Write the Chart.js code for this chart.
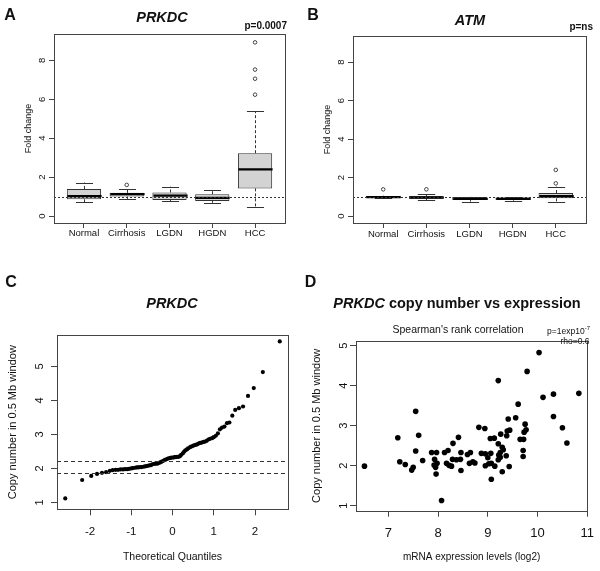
<!DOCTYPE html>
<html>
<head>
<meta charset="utf-8">
<script src="https://cdn.jsdelivr.net/npm/chart.js@4.4.1/dist/chart.umd.min.js"></script>
<style>
  body { margin: 0; background: #fff; }
  #fig { position: relative; width: 600px; height: 571px; font-family: "Liberation Sans", Arial, Helvetica, sans-serif; color: #111; }
  canvas { position: absolute; }
  .lbl { position: absolute; line-height: 1; white-space: nowrap; transform: translate(-50%, -50%); }
  .right { transform: translate(-100%, -50%); }
  sup { font-size: 6px; vertical-align: 4px; }
</style>
</head>
<body>
<div id="fig">
  <canvas id="chartA" width="300" height="260" style="left:0;top:0"></canvas>
  <canvas id="chartB" width="300" height="260" style="left:300px;top:0"></canvas>
  <canvas id="chartC" width="300" height="291" style="left:0;top:280px"></canvas>
  <canvas id="chartD" width="300" height="291" style="left:300px;top:280px"></canvas>

  <div class="lbl" style="left:10px;top:15px;font:bold 16px 'Liberation Sans',Arial">A</div>
  <div class="lbl" style="left:162px;top:17px;font:bold italic 14.5px 'Liberation Sans',Arial">PRKDC</div>
  <div class="lbl right" style="left:287px;top:25px;font:bold 10px 'Liberation Sans',Arial">p=0.0007</div>

  <div class="lbl" style="left:313px;top:14.5px;font:bold 16px 'Liberation Sans',Arial">B</div>
  <div class="lbl" style="left:470px;top:20px;font:bold italic 14.5px 'Liberation Sans',Arial">ATM</div>
  <div class="lbl right" style="left:593px;top:25.5px;font:bold 10px 'Liberation Sans',Arial">p=ns</div>

  <div class="lbl" style="left:11px;top:282px;font:bold 16px 'Liberation Sans',Arial">C</div>
  <div class="lbl" style="left:172px;top:302.5px;font:bold italic 14.5px 'Liberation Sans',Arial">PRKDC</div>

  <div class="lbl" style="left:310.5px;top:282px;font:bold 16px 'Liberation Sans',Arial">D</div>
  <div class="lbl" style="left:457px;top:302.5px;font:bold 14.5px 'Liberation Sans',Arial"><i>PRKDC</i> copy number vs expression</div>
  <div class="lbl" style="left:458px;top:328.7px;font:10.5px 'Liberation Sans',Arial">Spearman's rank correlation</div>
  <div class="lbl right" style="left:590px;top:330px;font:8.5px 'Liberation Sans',Arial">p=1exp10<sup>-7</sup></div>
  <div class="lbl right" style="left:589.5px;top:341px;font:8.5px 'Liberation Sans',Arial">rho=0.6</div>
</div>

<script>
// ---- data ----
const groups = ['Normal', 'Cirrhosis', 'LGDN', 'HGDN', 'HCC'];
const foldTicks = [0, 2, 4, 6, 8];

// A: PRKDC fold change
const prkdcLow = [0.72, 0.88, 0.75, 0.68, 0.46];
const prkdcQ1 = [0.86, 1.00, 0.82, 0.77, 1.42];
const prkdcMedian = [1.02, 1.12, 1.05, 0.93, 2.40];
const prkdcQ3 = [1.39, 1.19, 1.21, 1.12, 3.23];
const prkdcHigh = [1.72, 1.39, 1.51, 1.35, 5.40];
const prkdcOutGroup = [2, 5, 5, 5, 5];
const prkdcOutValue = [1.60, 6.24, 7.06, 7.53, 8.93];

// B: ATM fold change
const atmLow = [0.92, 0.83, 0.75, 0.80, 0.75];
const atmQ1 = [0.94, 0.90, 0.83, 0.85, 0.92];
const atmMedian = [0.99, 0.96, 0.89, 0.89, 1.04];
const atmQ3 = [1.04, 1.04, 0.99, 0.96, 1.20];
const atmHigh = [1.06, 1.13, 1.00, 0.97, 1.53];
const atmOutGroup = [1, 2, 5, 5];
const atmOutValue = [1.39, 1.39, 1.70, 2.40];

// C: normal QQ plot of copy number
const qqTheoretical = [-2.60, -2.19, -1.97, -1.83, -1.71, -1.61, -1.52, -1.45, -1.38, -1.32,
  -1.26, -1.20, -1.15, -1.10, -1.05, -1.00, -0.96, -0.91, -0.87, -0.83,
  -0.79, -0.75, -0.71, -0.67, -0.63, -0.60, -0.56, -0.52, -0.49, -0.45,
  -0.42, -0.38, -0.35, -0.31, -0.28, -0.25, -0.21, -0.18, -0.15, -0.11,
  -0.08, -0.05, -0.02, 0.02, 0.05, 0.08, 0.11, 0.15, 0.18, 0.21,
  0.25, 0.28, 0.31, 0.35, 0.38, 0.42, 0.45, 0.49, 0.52, 0.56,
  0.60, 0.63, 0.67, 0.71, 0.75, 0.79, 0.83, 0.87, 0.91, 0.96,
  1.00, 1.05, 1.10, 1.15, 1.20, 1.26, 1.32, 1.38, 1.45, 1.52,
  1.61, 1.71, 1.83, 1.97, 2.19, 2.60];
const qqCopyNumber = [1.12, 1.66, 1.78, 1.84, 1.87, 1.89, 1.93, 1.95, 1.96, 1.96,
  1.97, 1.97, 1.98, 1.98, 1.99, 2.00, 2.01, 2.02, 2.03, 2.03,
  2.04, 2.04, 2.05, 2.06, 2.07, 2.08, 2.09, 2.10, 2.12, 2.13,
  2.14, 2.14, 2.15, 2.17, 2.19, 2.21, 2.23, 2.25, 2.27, 2.29,
  2.30, 2.31, 2.32, 2.32, 2.33, 2.33, 2.34, 2.34, 2.36, 2.40,
  2.44, 2.49, 2.53, 2.56, 2.59, 2.62, 2.64, 2.66, 2.68, 2.69,
  2.71, 2.73, 2.75, 2.76, 2.78, 2.79, 2.81, 2.85, 2.87, 2.89,
  2.92, 2.96, 3.03, 3.15, 3.20, 3.23, 3.33, 3.35, 3.55, 3.72,
  3.77, 3.82, 4.13, 4.36, 4.83, 5.73];
const qqCutoffs = [2.22, 1.88];
const qqTicks = [-2, -1, 0, 1, 2];
const copyTicks = [1, 2, 3, 4, 5];

// D: copy number vs mRNA expression
const mrnaLevel = [6.52, 7.55, 7.19, 7.61, 7.55, 7.23, 7.34, 7.69, 7.50, 7.47,
  7.87, 7.97, 7.93, 7.92, 7.95, 7.96, 7.98, 8.07, 8.13, 8.20,
  8.30, 8.41, 8.17, 8.22, 8.27, 8.29, 8.37, 8.45, 8.46, 8.46,
  8.59, 8.65, 8.63, 8.70, 10.03, 9.79, 9.21, 10.83, 10.32, 10.11,
  9.61, 10.32, 9.41, 9.56, 9.75, 10.50, 8.82, 8.94, 9.77, 9.73,
  9.44, 9.39, 9.26, 9.38, 10.59, 9.05, 9.13, 9.65, 9.72, 9.21,
  9.29, 9.31, 9.71, 9.71, 9.25, 9.22, 8.87, 8.95, 9.06, 9.00,
  9.25, 9.37, 9.21, 9.07, 9.02, 8.95, 9.14, 9.43, 9.29, 9.07, 8.74];
const copyNumber = [1.99, 3.36, 2.70, 2.76, 2.37, 2.10, 2.03, 2.13, 1.96, 1.89,
  2.33, 2.33, 2.16, 2.02, 1.96, 1.79, 2.06, 1.13, 2.33, 2.38,
  2.56, 2.71, 2.06, 2.01, 1.99, 2.16, 2.15, 2.16, 2.33, 1.88,
  2.28, 2.33, 2.06, 2.10, 4.83, 4.36, 4.13, 3.81, 3.79, 3.71,
  3.54, 3.23, 3.17, 3.20, 3.04, 2.95, 2.96, 2.93, 2.90, 2.84,
  2.89, 2.87, 2.79, 2.75, 2.57, 2.68, 2.69, 2.66, 2.66, 2.55,
  2.46, 2.40, 2.38, 2.23, 2.33, 2.27, 2.31, 2.30, 2.31, 2.20,
  2.21, 2.25, 2.15, 2.06, 2.05, 2.00, 1.99, 1.98, 1.85, 1.66, 2.07];
const mrnaTicks = [7, 8, 9, 10, 11];

// ---- defaults ----
Chart.defaults.font.family = '"Liberation Sans", Arial, Helvetica, sans-serif';
Chart.defaults.color = '#111';
Chart.defaults.animation = false;
Chart.defaults.plugins.legend.display = false;
Chart.defaults.plugins.tooltip.enabled = false;

// box around the plotting region (R style)
Chart.register({
  id: 'frame',
  afterDraw(chart) {
    const a = chart.chartArea, ctx = chart.ctx;
    ctx.save();
    ctx.strokeStyle = '#444';
    ctx.lineWidth = 1;
    ctx.strokeRect(Math.round(a.left) + 0.5, Math.round(a.top) + 0.5,
      Math.round(a.right - a.left), Math.round(a.bottom - a.top));
    ctx.restore();
  }
});

function dashedLines(values, dash) {
  return {
    id: 'dashedLines',
    afterDatasetsDraw(chart) {
      const ys = chart.scales.y, a = chart.chartArea, ctx = chart.ctx;
      ctx.save();
      ctx.strokeStyle = '#333';
      ctx.lineWidth = 1;
      ctx.setLineDash(dash);
      values.forEach(v => {
        const py = Math.round(ys.getPixelForValue(v)) + 0.5;
        ctx.beginPath();
        ctx.moveTo(a.left, py);
        ctx.lineTo(a.right, py);
        ctx.stroke();
      });
      ctx.restore();
    }
  };
}

// whiskers, staples and medians on top of the floating bars
function boxStats(lo, med, hi, q1, q3) {
  return {
    id: 'boxStats',
    afterDatasetsDraw(chart) {
      const xs = chart.scales.x, ys = chart.scales.y, ctx = chart.ctx;
      const bars = chart.getDatasetMeta(0).data;
      ctx.save();
      med.forEach((m, i) => {
        const cx = Math.round(xs.getPixelForValue(i + 1)) + 0.5;
        const hw = bars[i].width / 2;
        ctx.strokeStyle = '#333';
        ctx.lineWidth = 1;
        ctx.setLineDash([3, 2]);
        ctx.beginPath();
        ctx.moveTo(cx, ys.getPixelForValue(q3[i]));
        ctx.lineTo(cx, ys.getPixelForValue(hi[i]));
        ctx.moveTo(cx, ys.getPixelForValue(q1[i]));
        ctx.lineTo(cx, ys.getPixelForValue(lo[i]));
        ctx.stroke();
        ctx.setLineDash([]);
        ctx.beginPath();
        [hi[i], lo[i]].forEach(v => {
          const py = Math.round(ys.getPixelForValue(v)) + 0.5;
          ctx.moveTo(cx - hw / 2, py);
          ctx.lineTo(cx + hw / 2, py);
        });
        ctx.stroke();
        ctx.strokeStyle = '#000';
        ctx.lineWidth = 2.2;
        const pm = ys.getPixelForValue(m);
        ctx.beginPath();
        ctx.moveTo(cx - hw, pm);
        ctx.lineTo(cx + hw, pm);
        ctx.stroke();
      });
      ctx.restore();
    }
  };
}

function fitAxis(size) {
  return s => {
    if (s.isHorizontal()) s.height = size; else s.width = size;
    s.paddingLeft = 0; s.paddingRight = 0; s.paddingTop = 0; s.paddingBottom = 0;
  };
}

function axis(o) {
  const horizontal = o.horizontal;
  const ticks = {
    autoSkip: false,
    padding: o.pad,
    font: { size: o.font },
    color: '#111',
    callback: o.labels ? (v, i) => o.labels[i] : v => String(v)
  };
  if (horizontal) { ticks.maxRotation = 0; ticks.minRotation = 0; }
  else { ticks.minRotation = 90; ticks.maxRotation = 90; ticks.crossAlign = 'center'; }
  return {
    type: 'linear', min: o.min, max: o.max, offset: false,
    afterBuildTicks: s => { s.ticks = o.ticks.map(v => ({ value: v })); },
    afterFit: fitAxis(o.size),
    grid: { display: true, offset: false, drawOnChartArea: false, drawTicks: true, tickLength: o.tick, color: '#444' },
    border: { display: false },
    ticks: ticks,
    title: o.title
      ? { display: true, text: o.title, padding: 0, color: '#111', font: { size: o.titleSize } }
      : { display: false }
  };
}

function boxChart(id, lo, q1, med, q3, hi, outGroup, outValue, pad, yAxisWidth, xPad) {
  return new Chart(document.getElementById(id), {
    type: 'bar',
    data: {
      datasets: [
        {
          data: groups.map((g, i) => ({ x: i + 1, y: [q1[i], q3[i]] })),
          backgroundColor: '#d3d3d3',
          borderColor: '#333',
          borderWidth: 1,
          borderSkipped: false,
          barPercentage: 0.8,
          categoryPercentage: 1
        },
        {
          type: 'scatter',
          data: outGroup.map((g, i) => ({ x: g, y: outValue[i] })),
          pointStyle: 'circle',
          pointRadius: 1.8,
          backgroundColor: 'rgba(0,0,0,0)',
          borderColor: '#444',
          borderWidth: 1
        }
      ]
    },
    options: {
      responsive: false,
      layout: { padding: pad },
      scales: {
        x: axis({ horizontal: true, min: 0.3, max: 5.7, ticks: [1, 2, 3, 4, 5], labels: groups,
          size: 37, tick: 5, pad: xPad, font: 9.5 }),
        y: axis({ horizontal: false, min: -0.36, max: 9.36, ticks: foldTicks,
          size: yAxisWidth, tick: 5, pad: 4, font: 9.5, title: 'Fold change', titleSize: 9 })
      }
    },
    plugins: [boxStats(lo, med, hi, q1, q3), dashedLines([1], [2, 2])]
  });
}

boxChart('chartA', prkdcLow, prkdcQ1, prkdcMedian, prkdcQ3, prkdcHigh, prkdcOutGroup, prkdcOutValue,
  { left: 23.6, top: 34, right: 15, bottom: 0 }, 30.4, 0);
boxChart('chartB', atmLow, atmQ1, atmMedian, atmQ3, atmHigh, atmOutGroup, atmOutValue,
  { left: 21.8, top: 36, right: 14, bottom: 0 }, 31.2, 1);

// C: QQ plot
new Chart(document.getElementById('chartC'), {
  type: 'scatter',
  data: {
    datasets: [{
      data: qqTheoretical.map((q, i) => ({ x: q, y: qqCopyNumber[i] })),
      pointRadius: 2.1,
      backgroundColor: '#000',
      borderWidth: 0
    }]
  },
  options: {
    responsive: false,
    layout: { padding: { left: 5.9, top: 55, right: 12, bottom: 8 } },
    scales: {
      x: axis({ horizontal: true, min: -2.8, max: 2.8, ticks: qqTicks, size: 53.7, tick: 6, pad: 10,
        font: 11.5, title: 'Theoretical Quantiles', titleSize: 10.5 }),
      y: axis({ horizontal: false, min: 0.8, max: 5.92, ticks: copyTicks, size: 51.1, tick: 6, pad: 7.5,
        font: 11, title: 'Copy number in 0.5 Mb window', titleSize: 11 })
    }
  },
  plugins: [dashedLines(qqCutoffs, [4, 3])]
});

// D: copy number vs expression
new Chart(document.getElementById('chartD'), {
  type: 'scatter',
  data: {
    datasets: [{
      data: mrnaLevel.map((m, i) => ({ x: m, y: copyNumber[i] })),
      pointRadius: 2.8,
      backgroundColor: '#000',
      borderWidth: 0
    }]
  },
  options: {
    responsive: false,
    layout: { padding: { left: 10.1, top: 61, right: 12.7, bottom: 8 } },
    scales: {
      x: axis({ horizontal: true, min: 6.35, max: 11.0, ticks: mrnaTicks, size: 52.3, tick: 6, pad: 9,
        font: 13, title: 'mRNA expression levels (log2)', titleSize: 10 }),
      y: axis({ horizontal: false, min: 0.875, max: 5.12, ticks: copyTicks, size: 45.9, tick: 6, pad: 2.5,
        font: 11, title: 'Copy number in 0.5 Mb window', titleSize: 11 })
    }
  }
});
</script>
</body>
</html>
